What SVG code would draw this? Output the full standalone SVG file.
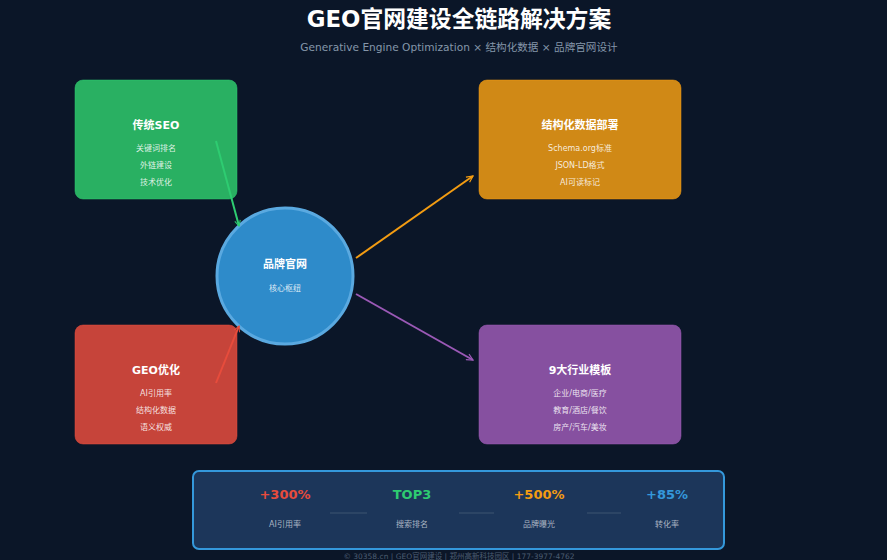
<svg xmlns="http://www.w3.org/2000/svg" width="887" height="560" viewBox="0 0 887 560">
<defs>
<style>
text{font-family:"DejaVu Sans","Noto Sans CJK SC",sans-serif;text-anchor:middle}
.t{font-size:11px;font-weight:bold;fill:#fff}
.i{font-size:8px;fill:#fff;fill-opacity:.85}
.box{stroke-width:1}
.stat{font-size:13px;font-weight:bold}
.lab{font-size:8px;fill:#a9b4c2}
.div{stroke:#3c5470;stroke-width:1}
</style>
<marker id="mg" viewBox="0 0 10 10" refX="9" refY="5" markerWidth="7" markerHeight="7" orient="auto" markerUnits="userSpaceOnUse"><path d="M1,1 L9,5 L1,9" fill="none" stroke="#2ecc71" stroke-width="1.5"/></marker>
<marker id="mr" viewBox="0 0 10 10" refX="9" refY="5" markerWidth="7" markerHeight="7" orient="auto" markerUnits="userSpaceOnUse"><path d="M1,1 L9,5 L1,9" fill="none" stroke="#e74c3c" stroke-width="1.5"/></marker>
<marker id="mo" viewBox="0 0 10 10" refX="9" refY="5" markerWidth="8" markerHeight="8" orient="auto" markerUnits="userSpaceOnUse"><path d="M1,1 L9,5 L1,9" fill="none" stroke="#f39c12" stroke-width="1.5"/></marker>
<marker id="mp" viewBox="0 0 10 10" refX="9" refY="5" markerWidth="8" markerHeight="8" orient="auto" markerUnits="userSpaceOnUse"><path d="M1,1 L9,5 L1,9" fill="none" stroke="#9b59b6" stroke-width="1.5"/></marker>
</defs>
<rect width="887" height="560" fill="#0b1628"/>
<text x="459" y="27" font-size="22.8" font-weight="bold" fill="#fff">GEO官网建设全链路解决方案</text>
<text x="459" y="51" font-size="10.6" fill="#8596aa">Generative Engine Optimization × 结构化数据 × 品牌官网设计</text>

<g id="node-seo">
<rect class="box" x="75" y="80" width="162" height="119" rx="8" fill="#29b062" stroke="#2ecc71" stroke-opacity=".5"/>
<text class="t" x="156" y="129">传统SEO</text>
<text class="i" x="156" y="151">关键词排名</text>
<text class="i" x="156" y="168">外链建设</text>
<text class="i" x="156" y="185">技术优化</text>
</g>
<g id="node-schema">
<rect class="box" x="479" y="80" width="202" height="119" rx="8" fill="#d08916" stroke="#f39c12" stroke-opacity=".5"/>
<text class="t" x="580" y="129">结构化数据部署</text>
<text class="i" x="580" y="151">Schema.org标准</text>
<text class="i" x="580" y="168">JSON-LD格式</text>
<text class="i" x="580" y="185">AI可读标记</text>
</g>
<g id="node-geo">
<rect class="box" x="75" y="325" width="162" height="119" rx="8" fill="#c6443a" stroke="#e74c3c" stroke-opacity=".5"/>
<text class="t" x="156" y="374">GEO优化</text>
<text class="i" x="156" y="396">AI引用率</text>
<text class="i" x="156" y="413">结构化数据</text>
<text class="i" x="156" y="430">语义权威</text>
</g>
<g id="node-templates">
<rect class="box" x="479" y="325" width="202" height="119" rx="8" fill="#8650a0" stroke="#9b59b6" stroke-opacity=".5"/>
<text class="t" x="580" y="374">9大行业模板</text>
<text class="i" x="580" y="396">企业/电商/医疗</text>
<text class="i" x="580" y="413">教育/酒店/餐饮</text>
<text class="i" x="580" y="430">房产/汽车/美妆</text>
</g>
<g id="node-brand">
<circle cx="285" cy="276" r="68" fill="#2e8bca" stroke="#5aa9e0" stroke-width="3"/>
<text class="t" x="285" y="268">品牌官网</text>
<text class="i" x="285" y="291">核心枢纽</text>
</g>

<g id="connectors" fill="none" stroke-width="2">
<line x1="216" y1="141" x2="239" y2="226" stroke="#2ecc71" marker-end="url(#mg)"/>
<line x1="216" y1="383" x2="239" y2="326" stroke="#e74c3c" marker-end="url(#mr)"/>
<line x1="356" y1="258" x2="473" y2="176" stroke="#f39c12" marker-end="url(#mo)"/>
<line x1="356" y1="294" x2="473" y2="360" stroke="#9b59b6" marker-end="url(#mp)"/>
</g>

<g id="stats">
<rect x="193" y="471" width="531" height="78" rx="6" fill="#1c365a" stroke="#3498db" stroke-width="2"/>
<text class="stat" x="285" y="499" fill="#e74c3c">+300%</text>
<text class="stat" x="412" y="499" fill="#2ecc71">TOP3</text>
<text class="stat" x="539" y="499" fill="#f39c12">+500%</text>
<text class="stat" x="667" y="499" fill="#3498db">+85%</text>
<text class="lab" x="285" y="527">AI引用率</text>
<text class="lab" x="412" y="527">搜索排名</text>
<text class="lab" x="539" y="527">品牌曝光</text>
<text class="lab" x="667" y="527">转化率</text>
<line class="div" x1="330" y1="513" x2="367" y2="513"/>
<line class="div" x1="459" y1="513" x2="494" y2="513"/>
<line class="div" x1="587" y1="513" x2="621" y2="513"/>
</g>
<text x="459" y="559" font-size="7.5" fill="#4c5d72">© 30358.cn | GEO官网建设 | 郑州高新科技园区 | 177-3977-4762</text>
</svg>
